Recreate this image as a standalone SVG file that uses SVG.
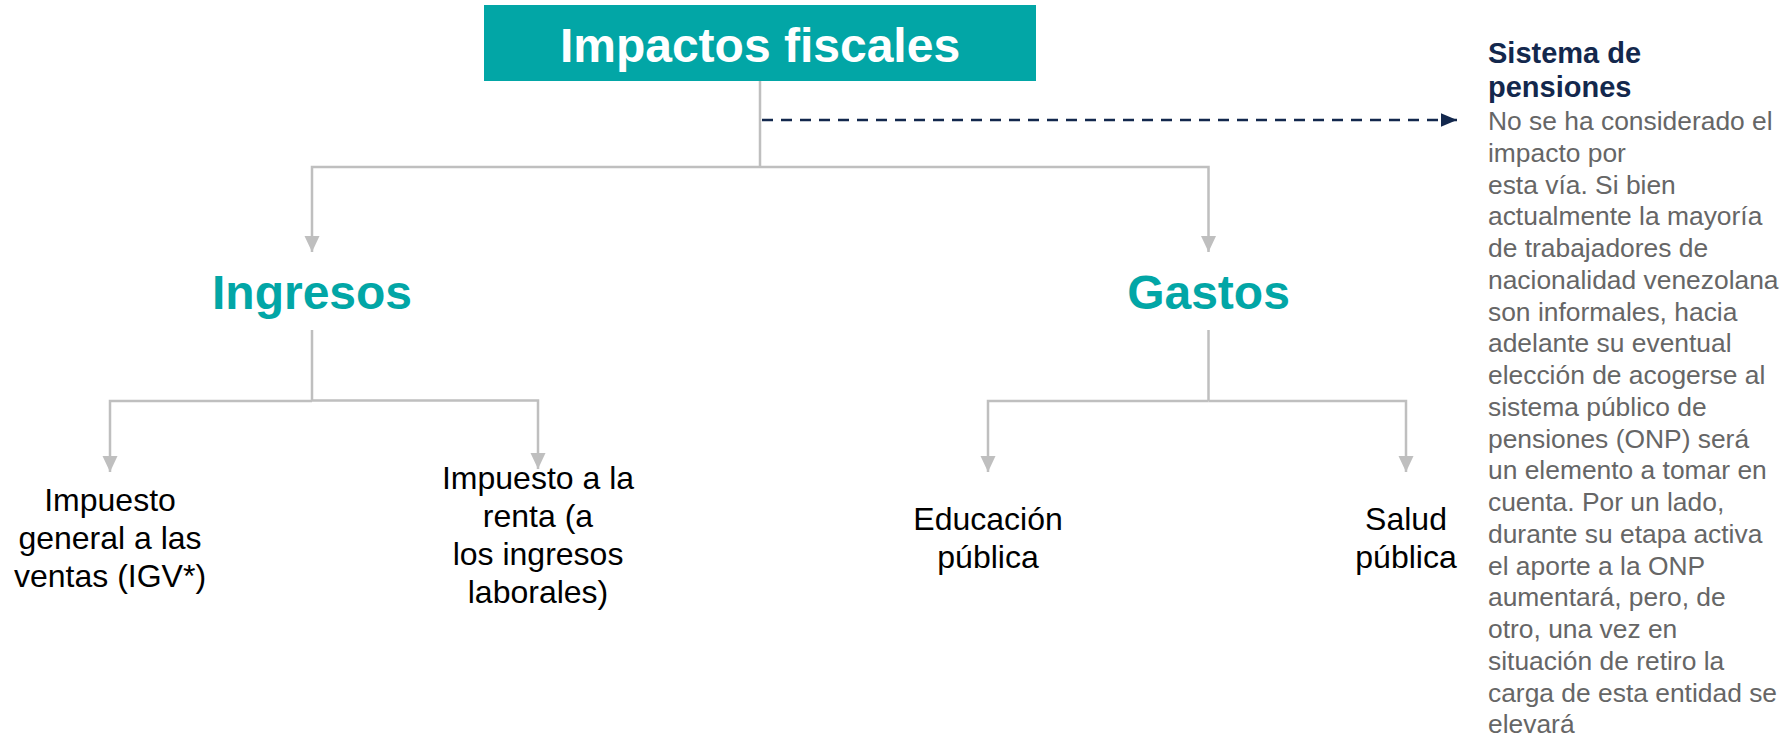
<svg xmlns="http://www.w3.org/2000/svg" width="1790" height="740" viewBox="0 0 1790 740">
<style>
.conn{fill:none;stroke:#BFBFBF;stroke-width:2.5}
.dash{fill:none;stroke:#13284D;stroke-width:2.5;stroke-dasharray:11 8}
.head{font-family:"Liberation Sans",Arial,sans-serif;font-weight:bold;font-size:48px;text-anchor:middle}
.lab{font-family:"Liberation Sans",Arial,sans-serif;font-size:32px;fill:#000;text-anchor:middle}
.ttl{font-family:"Liberation Sans",Arial,sans-serif;font-weight:bold;font-size:29px;fill:#13284D}
.body{font-family:"Liberation Sans",Arial,sans-serif;font-size:26.4px;fill:#666666}
</style>
<defs>
<marker id="ag" viewBox="0 0 16 16" refX="16" refY="8" markerWidth="16" markerHeight="16" markerUnits="userSpaceOnUse" orient="auto">
<path d="M0,0.5 L16,8 L0,15.5 z" fill="#BFBFBF"/>
</marker>
<marker id="an" viewBox="0 0 16 16" refX="16" refY="8" markerWidth="16" markerHeight="16" markerUnits="userSpaceOnUse" orient="auto">
<path d="M0,1.3 L16,8 L0,14.7 z" fill="#13284D"/>
</marker>
</defs>
<rect width="1790" height="740" fill="#FFFFFF"/>
<g id="connectors">
<path class="conn" d="M760,81 V167"/>
<path class="conn" d="M760,167 H312 V252" marker-end="url(#ag)"/>
<path class="conn" d="M760,167 H1208.5 V252" marker-end="url(#ag)"/>
<path class="dash" d="M762,120 H1457" marker-end="url(#an)"/>
<path class="conn" d="M312,330 V401"/>
<path class="conn" d="M312,401 H110 V472" marker-end="url(#ag)"/>
<path class="conn" d="M312,400.5 H538 V469" marker-end="url(#ag)"/>
<path class="conn" d="M1208.5,330 V401"/>
<path class="conn" d="M1208.5,401 H988 V472" marker-end="url(#ag)"/>
<path class="conn" d="M1208.5,401 H1406 V472" marker-end="url(#ag)"/>
</g>
<g id="node-impactos">
<rect x="484" y="5" width="552" height="76" fill="#02A6A6"/>
<text class="head" x="760" y="62" fill="#FFFFFF">Impactos fiscales</text>
</g>
<g id="node-ingresos">
<text class="head" x="312" y="309" fill="#02A6A6">Ingresos</text>
</g>
<g id="node-gastos">
<text class="head" x="1208.5" y="309" fill="#02A6A6">Gastos</text>
</g>
<g id="node-igv">
<text class="lab" x="110"><tspan x="110" y="511">Impuesto</tspan><tspan x="110" y="549">general a las</tspan><tspan x="110" y="587">ventas (IGV*)</tspan></text>
</g>
<g id="node-renta">
<text class="lab" x="538"><tspan x="538" y="489">Impuesto a la</tspan><tspan x="538" y="527">renta (a</tspan><tspan x="538" y="565">los ingresos</tspan><tspan x="538" y="603">laborales)</tspan></text>
</g>
<g id="node-educacion">
<text class="lab" x="988"><tspan x="988" y="530">Educación</tspan><tspan x="988" y="568">pública</tspan></text>
</g>
<g id="node-salud">
<text class="lab" x="1406"><tspan x="1406" y="530">Salud</tspan><tspan x="1406" y="568">pública</tspan></text>
</g>
<g id="node-pensiones">
<text class="ttl"><tspan x="1488" y="63.3">Sistema de</tspan><tspan x="1488" y="96.7">pensiones</tspan></text>
<text class="body">
<tspan x="1488" y="130">No se ha considerado el</tspan>
<tspan x="1488" y="161.75">impacto por</tspan>
<tspan x="1488" y="193.5">esta vía. Si bien</tspan>
<tspan x="1488" y="225.25">actualmente la mayoría</tspan>
<tspan x="1488" y="257">de trabajadores de</tspan>
<tspan x="1488" y="288.75">nacionalidad venezolana</tspan>
<tspan x="1488" y="320.5">son informales, hacia</tspan>
<tspan x="1488" y="352.25">adelante su eventual</tspan>
<tspan x="1488" y="384">elección de acogerse al</tspan>
<tspan x="1488" y="415.75">sistema público de</tspan>
<tspan x="1488" y="447.5">pensiones (ONP) será</tspan>
<tspan x="1488" y="479.25">un elemento a tomar en</tspan>
<tspan x="1488" y="511">cuenta. Por un lado,</tspan>
<tspan x="1488" y="542.75">durante su etapa activa</tspan>
<tspan x="1488" y="574.5">el aporte a la ONP</tspan>
<tspan x="1488" y="606.25">aumentará, pero, de</tspan>
<tspan x="1488" y="638">otro, una vez en</tspan>
<tspan x="1488" y="669.75">situación de retiro la</tspan>
<tspan x="1488" y="701.5">carga de esta entidad se</tspan>
<tspan x="1488" y="733.25">elevará</tspan>
</text>
</g>
</svg>
